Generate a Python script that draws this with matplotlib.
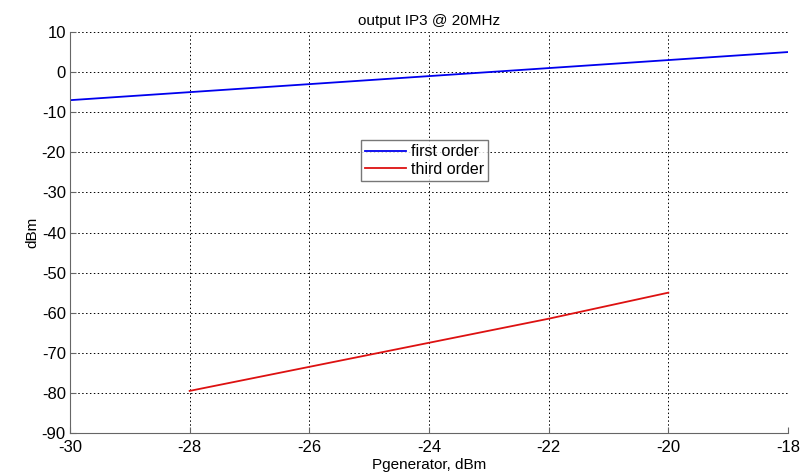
import matplotlib.pyplot as plt
import numpy as np

plt.rcParams['font.family'] = ['Liberation Sans', 'DejaVu Sans']
plt.rcParams['axes.unicode_minus'] = False

# data
p_first = [-30, -28, -26, -24, -22, -20, -18]
first_order = [-7, -5, -3, -1, 1, 3, 5]
p_third = [-28, -26, -24, -22, -20]
third_order = [-79.5, -73.5, -67.5, -61.5, -55.0]

x_ticks = [-30, -28, -26, -24, -22, -20, -18]
y_ticks = [10, 0, -10, -20, -30, -40, -50, -60, -70, -80, -90]

fig = plt.figure(figsize=(8, 4.73), dpi=100)
ax = fig.add_axes([70 / 800, 40 / 473, 718 / 800, 401 / 473])

ax.plot(p_first, first_order, color="#0000ee", lw=1.3, label="first order")
ax.plot(p_third, third_order, color="#dd1111", lw=1.3, label="third order")

ax.set_xlim(-30, -18)
ax.set_ylim(-90, 10)
ax.set_xticks(x_ticks)
ax.set_yticks(y_ticks)
ax.grid(True, color="black", linestyle=(0, (1.5, 2.5)), linewidth=0.7)
for s in ["top", "right"]:
    ax.spines[s].set_visible(False)
for s in ["left", "bottom"]:
    ax.spines[s].set_color("#666666")
ax.tick_params(direction="in", length=4, color="#666666", labelsize=12, pad=3)
ax.tick_params(axis="x", pad=5)

ax.set_xlabel("Pgenerator, dBm", fontsize=11, labelpad=2)
ax.set_ylabel("dBm", fontsize=11, labelpad=2)
ax.set_title("output IP3 @ 20MHz", fontsize=11, pad=5)

leg = ax.legend(loc="upper left", bbox_to_anchor=(0.405, 0.73), fontsize=11.5,
                frameon=True, fancybox=False, borderpad=0.25, handlelength=2.6,
                handletextpad=0.3, labelspacing=0.15, borderaxespad=0)
leg.get_frame().set_edgecolor("#555555")
leg.get_frame().set_linewidth(1.0)

fig.savefig("out.png", dpi=100)
